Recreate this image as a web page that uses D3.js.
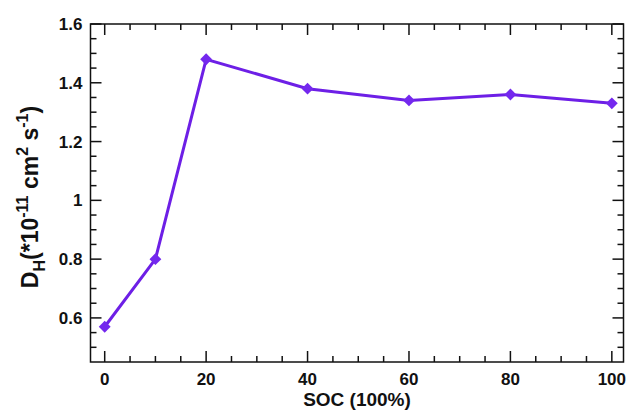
<!DOCTYPE html>
<meta charset="utf-8">
<style>
  body { margin: 0; background: #fff; }
  text { font-family: "Liberation Sans", Arial, sans-serif; font-weight: bold; fill: #111; }
</style>
<body>
<script src="https://cdn.jsdelivr.net/npm/d3@7"></script>
<script>
// data
var soc = [0, 10, 20, 40, 60, 80, 100];
var dh = [0.57, 0.80, 1.48, 1.38, 1.34, 1.36, 1.33];
var xTicks = [0, 20, 40, 60, 80, 100];
var yTicks = [0.6, 0.8, 1.0, 1.2, 1.4, 1.6];

var width = 629, height = 412;
var pLeft = 90.5, pRight = 623.5, pTop = 24, pBottom = 362;
var purple = "#6d1fe6";

var svg = d3.select("body").append("svg")
  .attr("width", width)
  .attr("height", height);

var x = d3.scaleLinear().domain([-2.8, 102.3]).range([pLeft, pRight]);
var y = d3.scaleLinear().domain([0.45, 1.6]).range([pBottom, pTop]);

var minorX = d3.range(0, 101, 5).filter(d => d % 20 != 0);
var minorY = d3.range(10, 32, 1).map(d => d * 0.05).filter(d => Math.abs(d * 5 - Math.round(d * 5)) > 0.01);

// ticks, all pointing inwards on four sides
var tg = svg.append("g").attr("stroke", "#111").attr("stroke-width", 1.5);
function ticks(axis, vals, len) {
  vals.forEach(function(v) {
    if (axis == "x") {
      tg.append("line").attr("x1", x(v)).attr("x2", x(v)).attr("y1", pBottom).attr("y2", pBottom - len);
      tg.append("line").attr("x1", x(v)).attr("x2", x(v)).attr("y1", pTop).attr("y2", pTop + len);
    } else {
      tg.append("line").attr("y1", y(v)).attr("y2", y(v)).attr("x1", pLeft).attr("x2", pLeft + len);
      tg.append("line").attr("y1", y(v)).attr("y2", y(v)).attr("x1", pRight).attr("x2", pRight - len);
    }
  });
}
ticks("x", xTicks, 11);
ticks("x", minorX, 6);
ticks("y", yTicks, 11);
ticks("y", minorY, 6);

svg.append("rect")
  .attr("x", pLeft).attr("y", pTop)
  .attr("width", pRight - pLeft).attr("height", pBottom - pTop)
  .attr("fill", "none").attr("stroke", "#111").attr("stroke-width", 1.5);

// tick labels
svg.append("g").selectAll("text").data(xTicks).enter().append("text")
  .attr("x", d => x(d)).attr("y", pBottom + 23)
  .attr("text-anchor", "middle").style("font-size", "17px")
  .text(d => d);

svg.append("g").selectAll("text").data(yTicks).enter().append("text")
  .attr("x", pLeft - 8).attr("y", d => y(d)).attr("dy", "0.36em")
  .attr("text-anchor", "end").style("font-size", "17px")
  .text(d => d3.format("~g")(d));

// axis titles
svg.append("text")
  .attr("x", (pLeft + pRight) / 2).attr("y", 406)
  .attr("text-anchor", "middle").style("font-size", "19px")
  .text("SOC (100%)");

var yt = svg.append("text")
  .attr("transform", "translate(38,197) rotate(-90)")
  .attr("text-anchor", "middle").style("font-size", "23px");
yt.append("tspan").text("D");
yt.append("tspan").attr("dy", 7).style("font-size", "16px").text("H");
yt.append("tspan").attr("dy", -7).text("(*10");
yt.append("tspan").attr("dy", -10).style("font-size", "16px").text("-11");
yt.append("tspan").attr("dy", 10).text(" cm");
yt.append("tspan").attr("dy", -10).style("font-size", "16px").text("2");
yt.append("tspan").attr("dy", 10).text(" s");
yt.append("tspan").attr("dy", -10).style("font-size", "16px").text("-1");
yt.append("tspan").attr("dy", 10).text(")");

// line + diamond markers
var pts = soc.map((d, i) => [d, dh[i]]);
svg.append("path")
  .datum(pts)
  .attr("fill", "none").attr("stroke", purple).attr("stroke-width", 3)
  .attr("d", d3.line().x(d => x(d[0])).y(d => y(d[1])));

svg.append("g").selectAll("path").data(pts).enter().append("path")
  .attr("transform", d => "translate(" + x(d[0]) + "," + y(d[1]) + ") rotate(45)")
  .attr("d", d3.symbol().type(d3.symbolSquare).size(70))
  .attr("fill", "#7428ee");
</script>
</body>
</html>
